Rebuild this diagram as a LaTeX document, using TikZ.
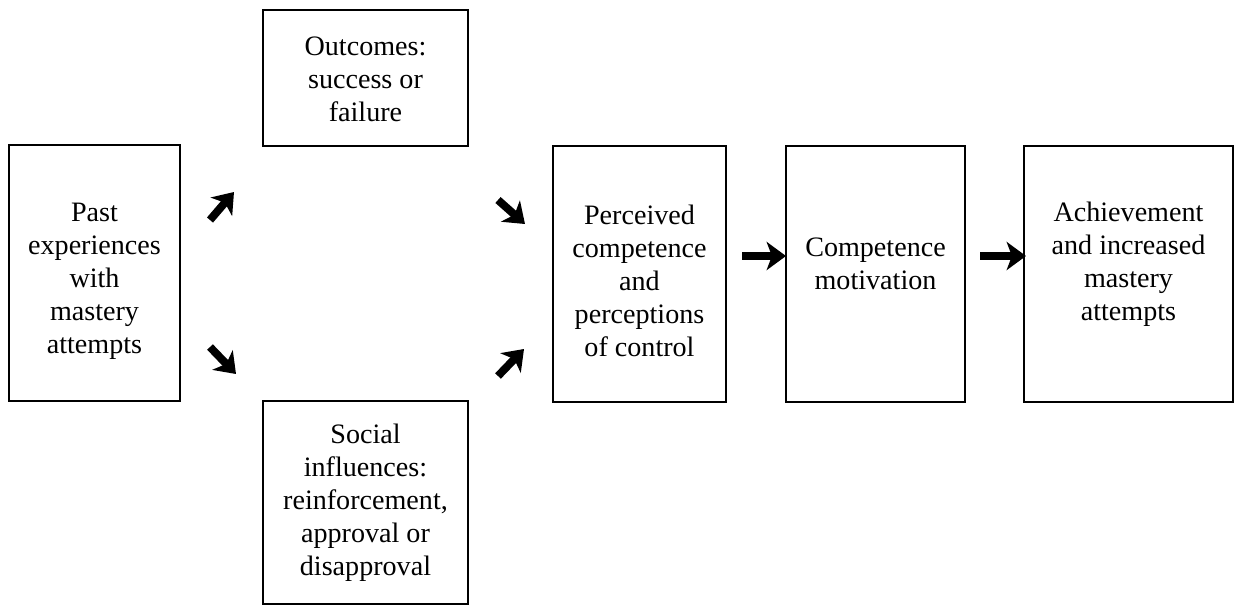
\documentclass[tikz,border=0pt]{standalone}
\usepackage{fontspec}
\setmainfont{Liberation Serif}
\usetikzlibrary{arrows.meta}

\begin{document}
\begin{tikzpicture}[x=0.02cm, y=-0.02cm,
    box/.style={draw, line width=0.8pt, inner sep=0pt},
    txt/.style={align=center, font=\fontsize{16}{18.8}\selectfont},
    bigarrow/.style={line width=4.5pt, -{Stealth[length=11pt, width=16pt, inset=3pt]}}]
          \useasboundingbox (0,0) rectangle (1241,606);

          % Boxes
          \node[box, minimum width=3.42cm, minimum height=5.12cm] (past) at (94.5,273) {};
          \node[box, minimum width=4.1cm, minimum height=2.72cm] (outcome) at (365.5,78) {};
          \node[box, minimum width=4.1cm, minimum height=4.06cm] (social) at (365.5,502.5) {};
          \node[box, minimum width=3.46cm, minimum height=5.12cm] (perceived) at (639.5,274) {};
          \node[box, minimum width=3.58cm, minimum height=5.12cm] (motive) at (875.5,274) {};
          \node[box, minimum width=4.18cm, minimum height=5.12cm] (achieve) at (1128.5,274) {};

          % Texts
          \node[txt] (pasttxt) at (94.5,281) {Past\\experiences\\with\\mastery\\attempts};
          \node[txt] (outcometxt) at (365.5,79) {Outcomes:\\success or\\failure};
          \node[txt] (socialtxt) at (365.5,503) {Social\\influences:\\reinforcement,\\approval or\\disapproval};
          \node[txt] (perceivedtxt) at (639.5,281) {Perceived\\competence\\and\\perceptions\\of control};
          \node[txt] (motivetxt) at (875.5,264) {Competence\\motivation};
          \node[txt] (achievetxt) at (1128.5,264) {Achievement\\and increased\\mastery\\attempts};

          % Arrows
          \coordinate (a1) at (210,220);
          \coordinate (b1) at (234,192);
          \coordinate (a2) at (210,347);
          \coordinate (b2) at (236,374);
          \coordinate (a3) at (498,200);
          \coordinate (b3) at (525,224);
          \coordinate (a4) at (498,376);
          \coordinate (b4) at (524,349);
          \coordinate (a5) at (742,256);
          \coordinate (b5) at (786,256);
          \coordinate (a6) at (980,256);
          \coordinate (b6) at (1026,256);
          \foreach \i in {1,...,6}
            \draw[bigarrow] (a\i) -- (b\i);

        \end{tikzpicture}
\end{document}
